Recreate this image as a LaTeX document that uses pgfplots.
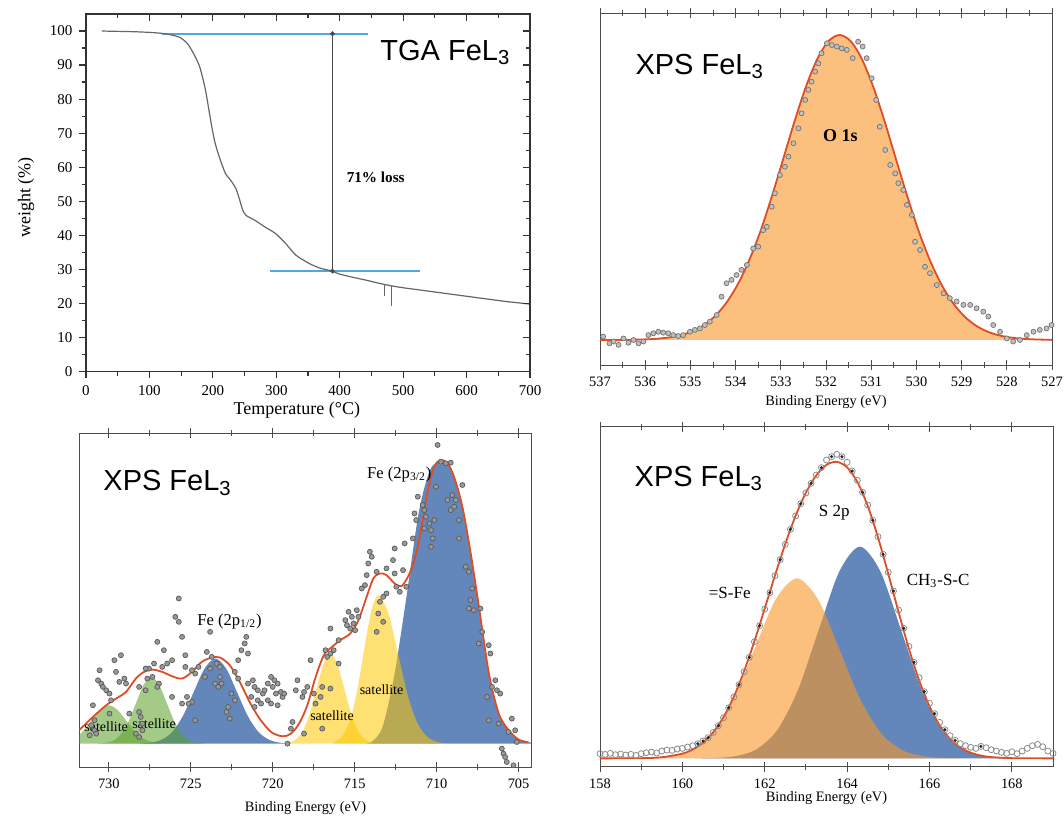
\documentclass[border=0pt]{standalone}
\usepackage{pgfplots}
\pgfplotsset{compat=1.18}
\usepackage{fontspec}
\setmainfont{Liberation Serif}
\newfontfamily\arial{Liberation Sans}

\definecolor{fitred}{RGB}{222,78,38}
\definecolor{oran}{RGB}{250,150,40}
\definecolor{xblue}{RGB}{40,90,160}
\definecolor{xyel}{RGB}{255,200,0}
\definecolor{xgreen}{RGB}{90,160,40}
\definecolor{tgablue}{RGB}{80,168,222}

\tikzset{titlefont/.style={font=\arial\fontsize{14.5}{16}\selectfont}}
\pgfplotsset{
  xpsaxis/.style={
    scale only axis, x dir=reverse, ytick=\empty,
    tick align=center, major tick length=5pt, minor tick length=2.8pt,
    minor x tick num=1,
    axis line style={draw=black!70, line width=0.5pt},
    tick style={draw=black!70, line width=0.5pt},
    tick label style={font=\fontsize{7.2}{8}\selectfont},
    label style={font=\fontsize{7.2}{8}\selectfont},
    /pgf/number format/assume math mode=true,
    xlabel={Binding Energy (eV)},
  },
  datapt/.style={only marks, mark=*, mark size=1.25pt,
    mark options={fill=black!25, draw=black!55, line width=0.35pt}},
  fepts/.style={only marks, mark=*, mark size=1.25pt,
    mark options={fill=black!40, draw=black!65, line width=0.35pt}},
  fitline/.style={fitred, line width=0.9pt, smooth},
}

\begin{document}
\begin{tikzpicture}
\path[use as bounding box] (0,0) rectangle (532pt,408pt);
\fill[white] (0,0) rectangle (532pt,408pt);

% ---------------- Panel 1: TGA ----------------
\begin{axis}[
  at={(43pt,222.25pt)}, anchor=south west, scale only axis,
  width=222pt, height=178.75pt,
  xmin=0, xmax=700, ymin=0, ymax=105,
  xtick={0,100,...,700}, ytick={0,10,...,100},
  minor x tick num=1, minor y tick num=1,
  xtick pos=left, ytick pos=left, tick align=outside,
  major tick length=3.3pt, minor tick length=2pt,
  axis line style={draw=black!80, line width=0.6pt},
  tick style={draw=black!80, line width=0.6pt},
  tick label style={font=\fontsize{7.5}{8}\selectfont},
  /pgf/number format/assume math mode=true,
  xlabel={Temperature (°C)}, ylabel={weight (\%)},
  label style={font=\fontsize{9}{10}\selectfont},
  xlabel style={at={(axis description cs:0.475,-0.108)}, anchor=center},
  ylabel style={at={(axis description cs:-0.135,0.487)}, anchor=center},
]
\addplot[tgablue, line width=1pt] coordinates {(119.6,99.2) (444.5,99.2)};
\addplot[tgablue, line width=1pt] coordinates {(290.7,29.5) (525.9,29.5)};
\addplot[black!60, line width=0.6pt, smooth, tension=0.4] coordinates {
(25,100)(50,99.9)(75,99.8)(100,99.6)(125,99.2)(147,98.2)(160,96.3)(171,92.9)
(179.4,89.4)(187.5,83.5)(193,77.7)(198.4,71.8)(203.8,66.9)(212,62)(220,58.1)
(228.3,56.1)(236.4,53.7)(241.8,50.7)(247.3,47.3)(252.7,45.8)(266.3,44.4)
(282.6,42.4)(299,40.5)(315.2,37.5)(331.4,34.1)(353.2,31.6)(370,30.3)(385.8,29.6)
(400,28.6)(420,27.7)(440,26.9)(460,26.0)(480,25.2)(500,24.6)(520,24.1)(540,23.6)
(560,23.1)(580,22.6)(600,22.1)(620,21.6)(640,21.1)(660,20.6)(680,20.2)(700,19.8)};
\addplot[black!60, line width=0.6pt] coordinates {(471,25.5)(471,22.3)};
\addplot[black!60, line width=0.6pt] coordinates {(482,25.1)(482,19.1)};
\addplot[black!70, line width=0.7pt, mark=*, mark size=0.8pt] coordinates {(388.5,29.5)(388.5,99.2)};
\node[anchor=base west, font=\bfseries\fontsize{7.6}{9}\selectfont] at (axis cs:400,55.6) {71\% loss};
\node[anchor=base west, titlefont] at (axis cs:453,91.4) {TGA FeL\textsubscript{3}};
\end{axis}
\begin{axis}[
  at={(43pt,222.25pt)}, anchor=south west, scale only axis,
  width=222pt, height=178.75pt,
  xmin=0, xmax=700, ymin=0, ymax=105,
  xtick={0,100,...,700}, ytick={0,10,...,100},
  minor x tick num=1, minor y tick num=1,
  xtick pos=right, ytick pos=right, tick align=inside,
  major tick length=3.3pt, minor tick length=2pt,
  axis line style={draw=black!80, line width=0.6pt},
  tick style={draw=black!80, line width=0.6pt},
  xticklabels={}, yticklabels={},
]
\end{axis}

% ---------------- Panel 2: O 1s ----------------
\begin{axis}[xpsaxis, at={(300pt,225.5pt)}, anchor=south west,
  width=226pt, height=176pt,
  xmin=527, xmax=537, ymin=-8.2, ymax=107.2, xtick={527,...,537},
  xlabel style={at={(axis description cs:0.5,-0.104)}, anchor=center}]
\addplot[datapt] coordinates {
(536.93,1.1)(536.79,-1.1)(536.70,-0.5)(536.59,-1.6)(536.48,0.5)(536.37,-0.9)(536.26,0)(536.15,-1.1)
(536.04,-0.5)(535.93,1.6)(535.82,2.2)(535.71,2.7)(535.60,2.4)(535.49,2.2)(535.38,1.6)(535.27,1.3)
(535.16,1.6)(535.01,2.7)(534.90,3.3)(534.79,3.8)(534.68,4.9)(534.57,6.0)(534.42,8.2)(534.31,14.2)
(534.20,18.6)(534.09,19.7)(533.98,21.3)(533.87,23.0)(533.75,24.6)(533.61,30.0)(533.50,30.6)
(533.39,36.0)(533.31,37.1)(533.20,43.7)(533.13,48.1)(533.02,54.1)(532.91,56.8)(532.83,60.1)
(532.72,64.5)(532.61,69.4)(532.54,74.3)(532.46,78.7)(532.39,82.0)(532.32,84.7)(532.24,88.0)
(532.17,90.7)(532.10,94.0)(531.98,97.3)(531.87,96.7)(531.76,96.2)(531.65,95.6)(531.54,95.1)
(531.41,92.4)(531.29,97.8)(531.19,96.2)(531.10,92.4)(530.99,85.8)(530.89,78.7)(530.81,69.9)
(530.69,62.3)(530.58,57.4)(530.47,54.6)(530.40,51.4)(530.29,49.2)(530.21,44.3)(530.10,41.0)
(530.03,32.2)(529.92,29.5)(529.81,24.0)(529.70,21.9)(529.55,18.0)(529.40,15.3)(529.26,13.7)
(529.11,12.6)(528.96,11.5)(528.81,11.5)(528.67,10.4)(528.52,9.3)(528.41,7.7)(528.30,4.9)
(528.15,2.7)(528.00,0.5)(527.86,-0.5)(527.71,0)(527.56,1.6)(527.41,2.7)(527.27,3.3)(527.12,3.8)(527.01,4.9)};
\addplot[draw=none, fill=oran, fill opacity=0.6, smooth] coordinates {
(537,0)(536.5,0.04)(536,0.2)(535.7,0.46)(535.45,0.89)(535.2,1.63)(534.95,2.88)(534.7,4.87)
(534.45,7.9)(534.2,12.3)(533.95,18.3)(533.7,26.1)(533.45,35.7)(533.2,47.0)(532.95,59.2)
(532.7,71.5)(532.45,82.8)(532.2,91.9)(531.95,97.9)(531.7,100)(531.45,97.9)(531.2,91.9)
(530.95,82.8)(530.7,71.5)(530.45,59.2)(530.2,47.0)(529.95,35.7)(529.7,26.1)(529.45,18.3)
(529.2,12.3)(528.95,7.9)(528.7,4.87)(528.45,2.88)(528.2,1.63)(527.95,0.89)(527.7,0.46)(527.4,0.2)(527,0.04)} \closedcycle;
\addplot[fitline] coordinates {
(537,0)(536.5,0.04)(536,0.2)(535.7,0.46)(535.45,0.89)(535.2,1.63)(534.95,2.88)(534.7,4.87)
(534.45,7.9)(534.2,12.3)(533.95,18.3)(533.7,26.1)(533.45,35.7)(533.2,47.0)(532.95,59.2)
(532.7,71.5)(532.45,82.8)(532.2,91.9)(531.95,97.9)(531.7,100)(531.45,97.9)(531.2,91.9)
(530.95,82.8)(530.7,71.5)(530.45,59.2)(530.2,47.0)(529.95,35.7)(529.7,26.1)(529.45,18.3)
(529.2,12.3)(528.95,7.9)(528.7,4.87)(528.45,2.88)(528.2,1.63)(527.95,0.89)(527.7,0.46)(527.4,0.2)(527,0.04)};
\node[anchor=base west, titlefont] at (axis cs:536.37,87.2) {XPS FeL\textsubscript{3}};
\node[anchor=base, font=\bfseries\fontsize{9}{10}\selectfont] at (axis cs:531.68,65) {O 1s};
\end{axis}

% ---------------- Panel 3: Fe 2p ----------------
\begin{axis}[xpsaxis, at={(39.65pt,24.5pt)}, anchor=south west,
  width=226.2pt, height=166.85pt,
  xmin=704.2, xmax=731.8, ymin=-70, ymax=930, xtick={705,710,...,730},
  xlabel style={at={(axis description cs:0.5,-0.123)}, anchor=center}]
\addplot[fepts] coordinates {
(709.94,895)(709.74,845)(709.44,840)(709.14,842)(708.43,775)(710.04,770)(709.34,730)(709.04,745)
(708.83,730)(711.15,740)(710.85,715)(710.75,700)(711.35,690)(711.25,670)(710.65,680)(710.14,670)
(710.44,660)(710.75,645)(710.34,640)(708.63,670)(708.93,710)(709.14,700)(710.24,615)(710.34,590)
(708.63,615)(711.45,615)(711.95,600)(712.56,585)(714.07,575)(713.96,560)(714.17,540)(714.27,505)
(713.66,515)(713.06,525)(712.66,550)(712.05,520)(712.56,510)(711.85,470)(712.46,470)(712.25,455)
(714.37,475)(714.57,465)(713.06,450)(713.26,440)(713.46,425)(713.56,390)(713.26,365)(713.66,335)
(715.37,395)(715.17,380)(715.57,370)(715.47,355)(715.27,345)(714.87,400)(714.77,380)(715.07,360)
(714.97,340)(716.48,345)(715.98,310)(716.28,280)(716.48,270)(716.68,260)(716.78,280)(715.98,240)
(716.48,165)(716.98,170)(717.39,120)(717.08,140)(717.69,250)(717.89,170)(717.49,150)(718.09,155)
(718.49,190)(718.59,160)(718.19,140)(718.79,65)(718.89,45)(719.1,0)(718.09,30)(716.98,45)
(708.23,530)(708.03,515)(707.83,465)(707.93,430)(707.73,400)(708.03,405)(707.33,405)(707.22,335)
(707.43,300)(706.82,295)(706.72,270)(706.42,190)(706.62,170)(706.92,140)(706.32,160)(706.12,150)
(706.82,70)(706.22,60)(705.41,75)(705.62,35)(705.21,40)(705.11,5)(706.02,-15)(705.92,-30)
(705.82,-40)(705.72,-55)(705.31,-65)
(724.02,275)(723.72,260)(723.42,240)(723.22,230)(723.82,225)(724.53,230)(724.73,210)(724.13,200)
(723.52,180)(723.12,180)(723.32,170)(722.52,150)(722.31,130)(722.72,110)(722.82,95)(722.62,75)
(723.22,200)(724.93,125)(725.13,120)(725.53,120)(725.23,140)(724.73,70)(722.11,250)(722.31,215)(722.11,195)
(725.73,435)(725.94,380)(725.73,365)(723.82,335)(721.61,320)(721.71,300)(721.91,280)(721.51,270)
(725.53,320)(725.33,265)(727.04,305)(726.64,280)(725.33,230)(724.93,220)(726.14,250)(726.44,240)
(726.74,230)(727.24,240)(727.55,225)(727.75,225)(727.34,200)(727.65,195)(726.94,180)(727.04,170)
(726.14,140)(728.15,170)(727.75,160)(728.15,95)(728.05,80)(727.95,60)(728.75,90)(729.66,250)
(729.26,265)(729.56,215)(729.05,195)(728.95,180)(729.36,185)(730.56,220)(730.66,190)(730.46,180)
(730.36,170)(730.16,160)(729.96,150)(729.86,130)(730.97,115)(730.87,70)(729.96,90)(731.07,55)
(730.87,40)(730.77,30)(731.17,25)(728.15,20)(727.95,40)(728.35,30)
(721.11,170)(720.91,160)(720.6,150)(720.3,180)(720.1,200)(719.9,190)(719.7,180)(720.0,170)
(719.8,150)(719.5,155)(719.4,140)(720.91,130)(720.71,120)(720.3,130)(720.1,120)(719.7,115)
(719.3,150)(721.11,110)(721.31,140)(721.51,180)(721.21,190)(720.5,160)};
% blue components
\addplot[draw=none, fill=xblue, fill opacity=0.72, smooth] coordinates {
(714.3,0)(713.9,8)(713.3,50)(712.6,200)(711.9,420)(711.1,690)(710.4,820)(709.74,845)(709.2,830)
(708.6,750)(708.0,590)(707.4,410)(706.8,210)(706.2,90)(705.6,40)(705.0,12)(704.2,3)} \closedcycle;
\addplot[draw=none, fill=xblue, fill opacity=0.72, smooth] coordinates {
(718.88,0.6)(719.54,2.8)(720.2,11.2)(720.86,34.5)(721.52,82.8)(722.18,154.7)(722.84,225)(723.5,255)
(724.16,225)(724.82,154.7)(725.48,82.8)(726.14,34.5)(726.8,11.2)(727.46,2.8)(728.12,0.6)} \closedcycle;
% yellow satellites
\addplot[draw=none, fill=xyel, fill opacity=0.55, smooth] coordinates {
(716.26,5)(715.81,20)(715.36,60)(714.91,144)(714.46,270)(714.01,393)(713.56,445)(712.96,393)
(712.36,270)(711.76,144)(711.16,60)(710.56,20)(709.96,5)(709.36,1)} \closedcycle;
\addplot[draw=none, fill=xyel, fill opacity=0.55, smooth] coordinates {
(719.03,3)(718.605,11.9)(718.18,36.5)(717.755,88)(717.33,164)(716.905,238)(716.48,270)(716.055,238)
(715.63,164)(715.205,88)(714.78,36.5)(714.355,11.9)(713.93,3)} \closedcycle;
% green satellites
\addplot[draw=none, fill=xgreen, fill opacity=0.55, smooth] coordinates {
(730.69,0.4)(730.22,2.2)(729.75,8.8)(729.28,27.1)(728.81,64.9)(728.34,121.3)(727.87,176.5)(727.4,200)
(726.93,176.5)(726.46,121.3)(725.99,64.9)(725.52,27.1)(725.05,8.8)(724.58,2.2)(724.11,0.4)} \closedcycle;
\addplot[draw=none, fill=xgreen, fill opacity=0.55, smooth] coordinates {
(733.15,1.3)(732.625,5)(732.1,15.6)(731.575,37.3)(731.05,69.7)(730.525,101.5)(730,115)(729.475,101.5)
(728.95,69.7)(728.425,37.3)(727.9,15.6)(727.375,5)(726.85,1.3)} \closedcycle;
\addplot[fitline] coordinates {
(731.81,40)(730.97,80)(730.16,115)(729.56,135)(728.95,155)(728.35,195)(727.85,215)(727.34,222)
(726.74,215)(726.14,202)(725.53,195)(724.93,215)(724.33,245)(723.72,258)(723.22,258)(722.62,235)
(722.01,185)(721.41,125)(720.80,75)(720.10,35)(719.40,22)(718.89,30)(718.39,60)(717.89,115)
(717.38,200)(716.88,265)(716.38,290)(715.88,310)(715.27,330)(714.77,370)(714.27,440)(713.86,495)
(713.46,510)(713.06,505)(712.56,480)(712.15,472)(711.75,500)(711.35,550)(710.95,640)(710.55,755)
(710.15,830)(709.74,850)(709.34,840)(708.94,800)(708.43,710)(707.92,570)(707.42,410)(706.81,210)
(706.21,90)(705.6,40)(704.99,12)(704.39,4)};
\node[anchor=base west, titlefont] at (axis cs:730.76,758) {XPS FeL\textsubscript{3}};
\node[anchor=base west, font=\fontsize{8.3}{9}\selectfont] at (axis cs:714.67,795) {Fe (2p\textsubscript{3/2})};
\node[anchor=base west, font=\fontsize{8.3}{9}\selectfont] at (axis cs:725.03,355) {Fe (2p\textsubscript{1/2})};
\node[anchor=base, font=\fontsize{7}{8}\selectfont] at (axis cs:730.16,35) {satellite};
\node[anchor=base, font=\fontsize{7}{8}\selectfont] at (axis cs:727.24,45) {satellite};
\node[anchor=base, font=\fontsize{7}{8}\selectfont] at (axis cs:716.38,70) {satellite};
\node[anchor=base, font=\fontsize{7}{8}\selectfont] at (axis cs:713.36,148) {satellite};
\end{axis}

% ---------------- Panel 4: S 2p ----------------
\begin{axis}[xpsaxis, x dir=normal, at={(300pt,24.65pt)}, anchor=south west,
  width=226.5pt, height=169.85pt,
  xmin=158, xmax=169, ymin=-25, ymax=994, xtick={158,160,...,168},
  xlabel style={at={(axis description cs:0.5,-0.092)}, anchor=center}]
\addplot[draw=none, fill=xblue, fill opacity=0.72, smooth] coordinates {
(160.31,0.2)(160.81,1.4)(161.31,7.0)(161.81,27.9)(162.31,85.9)(162.81,206.2)(163.31,385.1)(163.81,560.4)
(164.31,635)(164.81,560.4)(165.31,385.1)(165.81,206.2)(166.31,85.9)(166.81,27.9)(167.31,7.0)(167.81,1.4)(168.31,0.2)} \closedcycle;
\addplot[draw=none, fill=oran, fill opacity=0.6, smooth] coordinates {
(158.66,0.2)(159.175,1.2)(159.69,6.0)(160.205,23.7)(160.72,73.1)(161.235,175.3)(161.75,327.5)(162.265,476.6)
(162.78,540)(163.295,476.6)(163.81,327.5)(164.325,175.3)(164.84,73.1)(165.355,23.7)(165.87,6.0)(166.385,1.2)(166.9,0.2)} \closedcycle;
\addplot[only marks, mark=o, mark size=1.5pt, mark options={draw=black!45, line width=0.4pt}] table {
158.000 14
158.125 12
158.250 15
158.375 11
158.500 13
158.625 10
158.750 12
158.875 9
159.000 14
159.125 17
159.250 19
159.375 16
159.500 22
159.625 25
159.750 24
159.875 28
160.000 30
160.125 34
160.250 38
160.375 44
160.500 52
160.625 62
160.750 78
160.875 98
161.000 122
161.125 152
161.250 184
161.375 221
161.500 260
161.625 303
161.750 350
161.875 398
162.000 448
162.125 497
162.250 548
162.375 596
162.500 642
162.625 687
162.750 727
162.875 764
163.000 796
163.125 825
163.250 850
163.375 872
163.500 895
163.625 905
163.750 912
163.875 905
164.000 888
164.125 862
164.250 834
164.375 798
164.500 760
164.625 714
164.750 665
164.875 612
165.000 558
165.125 502
165.250 445
165.375 390
165.500 336
165.625 288
165.750 242
165.875 200
166.000 165
166.125 134
166.250 108
166.375 86
166.500 68
166.625 54
166.750 44
166.875 38
167.000 33
167.125 30
167.250 36
167.375 32
167.500 26
167.625 22
167.750 18
167.875 15
168.000 20
168.125 14
168.250 22
168.375 30
168.500 38
168.625 42
168.750 35
168.875 22
169.000 15
};
\addplot[fitline] coordinates {
(158,0)(159,0.6)(159.5,3.4)(160,14.2)(160.25,26.7)(160.5,47.1)(160.75,78.5)(161,124)(161.25,185.1)
(161.5,261.8)(161.75,351.4)(162,449.5)(162.25,549.1)(162.5,643.8)(162.75,727.9)(163,797)(163.25,848.7)
(163.5,880.4)(163.75,889.5)(164,872.9)(164.25,828.9)(164.5,757.6)(164.75,663.1)(165,553.4)(165.25,438.7)
(165.5,329.3)(165.75,233.7)(166,156.4)(166.25,98.6)(166.5,58.5)(166.75,32.6)(167,17.1)(167.25,8.4)
(167.5,3.9)(168,0.7)(169,0)};
\addplot[only marks, mark=*, mark size=0.55pt, black!85] table {
160.375 44
160.500 52
160.625 62
160.875 98
161.125 152
161.375 221
161.625 303
161.875 398
162.125 497
162.375 596
162.625 687
162.875 764
163.125 825
163.375 872
163.625 905
163.875 905
164.125 862
164.375 798
164.625 714
164.875 612
165.125 502
165.375 390
165.625 288
165.875 200
166.125 134
166.375 86
166.625 54
167.250 36
};
\node[anchor=base west, titlefont] at (axis cs:158.67,815) {XPS FeL\textsubscript{3}};
\node[anchor=base, font=\fontsize{8.5}{9}\selectfont] at (axis cs:163.69,725) {S 2p};
\node[anchor=base, font=\fontsize{8.5}{9}\selectfont] at (axis cs:161.15,480) {=S-Fe};
\node[anchor=base, font=\fontsize{8.5}{9}\selectfont] at (axis cs:166.21,520) {CH\textsubscript{3}-S-C};
\end{axis}
\end{tikzpicture}
\end{document}
